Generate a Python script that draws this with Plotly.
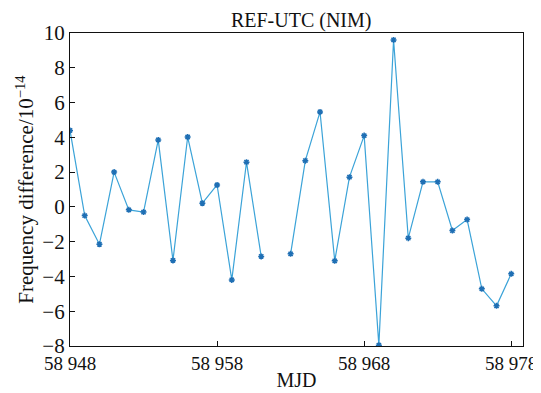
import plotly.graph_objects as go

mjd = list(range(58948, 58979))
freq_diff = [4.4, -0.5, -2.15, 2.0, -0.17, -0.3, 3.85, -3.08, 4.02, 0.21, 1.26, -4.2, 2.57, -2.85,
             None,
             -2.7, 2.66, 5.46, -3.1, 1.71, 4.1, -7.95, 9.6, -1.8, 1.44, 1.44, -1.36, -0.73, -4.71, -5.69, -3.85]
x_tick_vals = [58948, 58958, 58968, 58978]
x_tick_text = ["58 948", "58 958", "58 968", "58 978"]
y_tick_vals = [-8, -6, -4, -2, 0, 2, 4, 6, 8, 10]
y_tick_text = ["\u22128", "\u22126", "\u22124", "\u22122", "0", "2", "4", "6", "8", "10"]

font = "Liberation Serif"

fig = go.Figure()
fig.add_trace(go.Scatter(
    x=mjd, y=freq_diff, mode="lines+markers", connectgaps=False,
    line=dict(color="#3ba3d8", width=1.2),
    marker=dict(symbol="asterisk-open", size=5, color="#1f6fb4",
                line=dict(color="#1f6fb4", width=1.5)),
    showlegend=False,
))

# The page body has an 8px margin, so the figure is sized/offset to compensate.
fig.update_layout(
    width=533, height=385,
    margin=dict(l=62, r=18, t=25, b=47),
    paper_bgcolor="white", plot_bgcolor="white",
    font=dict(family=font, size=20, color="#111"),
    title=dict(text="REF-UTC (NIM)", x=0.55, xanchor="center", y=0.968, yanchor="middle",
               font=dict(family=font, size=20)),
)
fig.update_xaxes(
    range=[58948, 58978.8], tickvals=x_tick_vals, ticktext=x_tick_text,
    ticks="inside", ticklen=5, tickcolor="#111", showgrid=False, zeroline=False,
    showline=True, linecolor="#111", linewidth=1.3, mirror=True, automargin=False,
    tickfont=dict(family=font, size=19),
    title=dict(text="MJD", font=dict(family=font, size=20), standoff=0),
)
fig.update_yaxes(
    range=[-8, 10], tickvals=y_tick_vals, ticktext=y_tick_text,
    ticks="inside", ticklen=5, tickcolor="#111", showgrid=False, zeroline=False,
    showline=True, linecolor="#111", linewidth=1.3, mirror=True, automargin=False,
    tickfont=dict(family=font, size=21),
    title=dict(text="Frequency difference/10<sup>\u221214</sup>", font=dict(family=font, size=21), standoff=2),
)

fig.write_html("out.html")
